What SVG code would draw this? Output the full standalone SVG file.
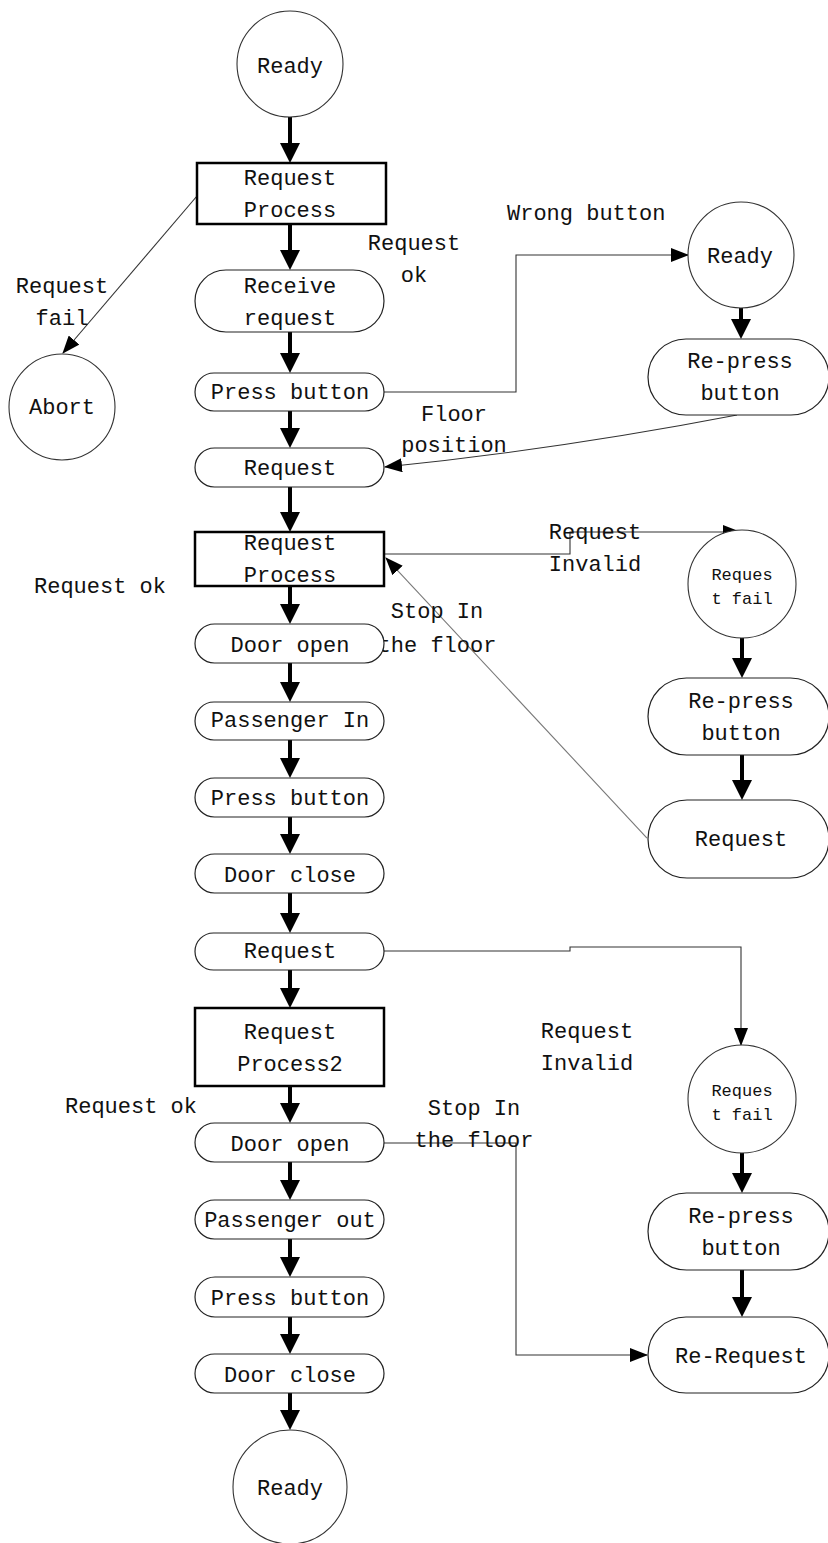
<svg xmlns="http://www.w3.org/2000/svg" width="828" height="1543" viewBox="0 0 828 1543">
  <defs>
    <style>
      text { font-family: "Liberation Mono", "DejaVu Sans Mono", monospace; font-size: 22px; fill: #111; }
      .mid { text-anchor: middle; }
      .small { font-size: 17px; }
      .stadium { fill: #fff; stroke: #222; stroke-width: 1.2; }
      .circle { fill: #fff; stroke: #333; stroke-width: 1.1; }
      .box { fill: #fff; stroke: #000; stroke-width: 2.5; }
      .flow { stroke: #000; stroke-width: 4; fill: none; marker-end: url(#big); }
      .link { stroke: #333; stroke-width: 1.1; fill: none; marker-end: url(#thin); }
      .link.faint { stroke: #777; }
    </style>
    <marker id="big" viewBox="0 0 20 20" markerWidth="20" markerHeight="20" refX="10" refY="10" orient="auto" markerUnits="userSpaceOnUse">
      <path d="M0,0 L20,10 L0,20 z" fill="#000"/>
    </marker>
    <marker id="thin" viewBox="0 0 18 14" markerWidth="18" markerHeight="14" refX="17" refY="7" orient="auto" markerUnits="userSpaceOnUse">
      <path d="M0,0 L18,7 L0,14 z" fill="#000"/>
    </marker>
  </defs>
  <rect width="828" height="1543" fill="#fff"/>

  <!-- connectors -->
  <g id="connectors">
    <!-- main column -->
    <line class="flow" x1="290" y1="117" x2="290" y2="153"/>
    <line class="flow" x1="290" y1="224" x2="290" y2="260"/>
    <line class="flow" x1="290" y1="332" x2="290" y2="363"/>
    <line class="flow" x1="290" y1="411" x2="290" y2="438"/>
    <line class="flow" x1="290" y1="487" x2="290" y2="522"/>
    <line class="flow" x1="290" y1="586" x2="290" y2="614"/>
    <line class="flow" x1="290" y1="663" x2="290" y2="692"/>
    <line class="flow" x1="290" y1="740" x2="290" y2="768"/>
    <line class="flow" x1="290" y1="817" x2="290" y2="844"/>
    <line class="flow" x1="290" y1="893" x2="290" y2="923"/>
    <line class="flow" x1="290" y1="970" x2="290" y2="998"/>
    <line class="flow" x1="290" y1="1086" x2="290" y2="1113"/>
    <line class="flow" x1="290" y1="1162" x2="290" y2="1190"/>
    <line class="flow" x1="290" y1="1239" x2="290" y2="1267"/>
    <line class="flow" x1="290" y1="1317" x2="290" y2="1344"/>
    <line class="flow" x1="290" y1="1393" x2="290" y2="1420"/>
    <!-- right column -->
    <line class="flow" x1="741" y1="308" x2="741" y2="329"/>
    <line class="flow" x1="742" y1="638" x2="742" y2="668"/>
    <line class="flow" x1="742" y1="755" x2="742" y2="790"/>
    <line class="flow" x1="742" y1="1153" x2="742" y2="1183"/>
    <line class="flow" x1="742" y1="1270" x2="742" y2="1307"/>
    <!-- side transitions -->
    <line class="link" x1="197" y1="196" x2="63" y2="353"/>
    <polyline class="link" points="384,392 516,392 516,255 688,255"/>
    <path class="link" d="M737,415 Q561,449 385,467"/>
    <polyline class="link" points="384,554 570,554 570,532 740,532"/>
    <line class="link faint" x1="647" y1="838" x2="386" y2="558"/>
    <polyline class="link" points="384,951 570,951 570,947 741,947 741,1045"/>
    <polyline class="link" points="384,1143 516,1143 516,1355 647,1355"/>
  </g>

  <!-- transition labels -->
  <g id="labels">
    <text class="mid" x="62" y="293">Request</text>
    <text class="mid" x="62" y="325">fail</text>
    <text class="mid" x="414" y="250">Request</text>
    <text class="mid" x="414" y="282">ok</text>
    <text x="507" y="220">Wrong button</text>
    <text class="mid" x="454" y="421">Floor</text>
    <text class="mid" x="454" y="452">position</text>
    <text x="34" y="593">Request ok</text>
    <text class="mid" x="595" y="539">Request</text>
    <text class="mid" x="595" y="571">Invalid</text>
    <text class="mid" x="437" y="618">Stop In</text>
    <text class="mid" x="437" y="652">the floor</text>
    <text class="mid" x="587" y="1038">Request</text>
    <text class="mid" x="587" y="1070">Invalid</text>
    <text x="65" y="1113">Request ok</text>
    <text class="mid" x="474" y="1115">Stop In</text>
    <text class="mid" x="474" y="1147">the floor</text>
  </g>

  <!-- main column nodes -->
  <g id="ready-start">
    <circle class="circle" cx="290" cy="64" r="53" stroke="#555"/>
    <text class="mid" x="290" y="73">Ready</text>
  </g>
  <g id="request-process-1">
    <rect class="box" x="197" y="163" width="189" height="61"/>
    <text class="mid" x="290" y="185">Request</text>
    <text class="mid" x="290" y="217">Process</text>
  </g>
  <g id="receive-request">
    <rect class="stadium" x="195" y="270" width="189" height="62" rx="31"/>
    <text class="mid" x="290" y="293">Receive</text>
    <text class="mid" x="290" y="325">request</text>
  </g>
  <g id="press-button-1">
    <rect class="stadium" x="195" y="373" width="189" height="38" rx="19"/>
    <text class="mid" x="290" y="399">Press button</text>
  </g>
  <g id="request-1">
    <rect class="stadium" x="195" y="448" width="189" height="39" rx="19.5"/>
    <text class="mid" x="290" y="475">Request</text>
  </g>
  <g id="abort">
    <circle class="circle" cx="62" cy="407" r="53"/>
    <text class="mid" x="62" y="414">Abort</text>
  </g>
  <g id="request-process-2">
    <rect class="box" x="195" y="532" width="189" height="54"/>
    <text class="mid" x="290" y="550">Request</text>
    <text class="mid" x="290" y="582">Process</text>
  </g>
  <g id="door-open-1">
    <rect class="stadium" x="195" y="624" width="189" height="39" rx="19.5"/>
    <text class="mid" x="290" y="652">Door open</text>
  </g>
  <g id="passenger-in">
    <rect class="stadium" x="195" y="702" width="189" height="38" rx="19"/>
    <text class="mid" x="290" y="727">Passenger In</text>
  </g>
  <g id="press-button-2">
    <rect class="stadium" x="195" y="778" width="189" height="39" rx="19.5"/>
    <text class="mid" x="290" y="805">Press button</text>
  </g>
  <g id="door-close-1">
    <rect class="stadium" x="195" y="854" width="189" height="39" rx="19.5"/>
    <text class="mid" x="290" y="882">Door close</text>
  </g>
  <g id="request-2">
    <rect class="stadium" x="195" y="933" width="189" height="37" rx="18.5"/>
    <text class="mid" x="290" y="958">Request</text>
  </g>
  <g id="request-process-3">
    <rect class="box" x="195" y="1008" width="189" height="78"/>
    <text class="mid" x="290" y="1039">Request</text>
    <text class="mid" x="290" y="1071">Process2</text>
  </g>
  <g id="door-open-2">
    <rect class="stadium" x="195" y="1123" width="189" height="39" rx="19.5"/>
    <text class="mid" x="290" y="1151">Door open</text>
  </g>
  <g id="passenger-out">
    <rect class="stadium" x="195" y="1200" width="189" height="39" rx="19.5"/>
    <text class="mid" x="290" y="1227">Passenger out</text>
  </g>
  <g id="press-button-3">
    <rect class="stadium" x="195" y="1277" width="189" height="40" rx="20"/>
    <text class="mid" x="290" y="1305">Press button</text>
  </g>
  <g id="door-close-2">
    <rect class="stadium" x="195" y="1354" width="189" height="39" rx="19.5"/>
    <text class="mid" x="290" y="1382">Door close</text>
  </g>
  <g id="ready-end">
    <circle class="circle" cx="290" cy="1487" r="57"/>
    <text class="mid" x="290" y="1495">Ready</text>
  </g>

  <!-- right column nodes -->
  <g id="ready-retry">
    <circle class="circle" cx="741" cy="255" r="53"/>
    <text class="mid" x="740" y="263">Ready</text>
  </g>
  <g id="re-press-1">
    <rect class="stadium" x="648" y="339" width="181" height="76" rx="38"/>
    <text class="mid" x="740" y="368">Re-press</text>
    <text class="mid" x="740" y="400">button</text>
  </g>
  <g id="request-fail-1">
    <circle class="circle" cx="742" cy="584" r="54"/>
    <text class="mid small" x="742" y="580">Reques</text>
    <text class="mid small" x="742" y="604">t fail</text>
  </g>
  <g id="re-press-2">
    <rect class="stadium" x="648" y="678" width="181" height="77" rx="38.5"/>
    <text class="mid" x="741" y="708">Re-press</text>
    <text class="mid" x="741" y="740">button</text>
  </g>
  <g id="request-retry">
    <rect class="stadium" x="648" y="800" width="181" height="78" rx="39"/>
    <text class="mid" x="741" y="846">Request</text>
  </g>
  <g id="request-fail-2">
    <circle class="circle" cx="742" cy="1099" r="54"/>
    <text class="mid small" x="742" y="1096">Reques</text>
    <text class="mid small" x="742" y="1120">t fail</text>
  </g>
  <g id="re-press-3">
    <rect class="stadium" x="648" y="1193" width="181" height="77" rx="38.5"/>
    <text class="mid" x="741" y="1223">Re-press</text>
    <text class="mid" x="741" y="1255">button</text>
  </g>
  <g id="re-request">
    <rect class="stadium" x="648" y="1317" width="181" height="76" rx="38"/>
    <text class="mid" x="741" y="1363">Re-Request</text>
  </g>
</svg>
